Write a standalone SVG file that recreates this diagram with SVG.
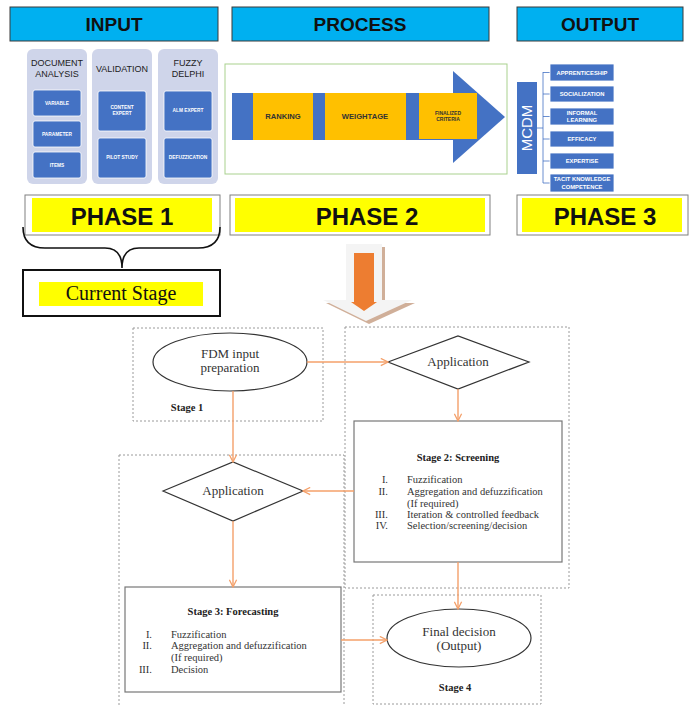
<svg xmlns="http://www.w3.org/2000/svg" width="691" height="706" viewBox="0 0 691 706">
<defs>
<style>
.hdr{fill:#00B0F0;stroke:#3A3A3A;stroke-width:1}
.hdrt{font-family:"Liberation Sans",Arial,sans-serif;font-weight:bold;font-size:19px;fill:#111;text-anchor:middle}
.panel{fill:#CFD5EA}
.pt{font-family:"Liberation Sans",Arial,sans-serif;font-size:9px;fill:#222;text-anchor:middle}
.blue{fill:#4472C4}
.bb{fill:#4472C4;stroke:#ffffff;stroke-width:0.8}
.wt{font-family:"Liberation Sans",Arial,sans-serif;font-weight:bold;font-size:4.8px;fill:#fff;text-anchor:middle}
.ot{font-family:"Liberation Sans",Arial,sans-serif;font-weight:bold;font-size:5.8px;fill:#fff;text-anchor:middle}
.yel{fill:#FFC000}
.yt{font-family:"Liberation Sans",Arial,sans-serif;font-weight:bold;font-size:7.6px;fill:#333;text-anchor:middle}
.phb{fill:#fff;stroke:#808080;stroke-width:1}
.phy{fill:#FFFF00}
.pht{font-family:"Liberation Sans",Arial,sans-serif;font-weight:bold;font-size:24px;fill:#111;text-anchor:middle}
.dash{fill:none;stroke:#9a9a9a;stroke-width:1;stroke-dasharray:2,2}
.node{fill:#fff;stroke:#333;stroke-width:1.2}
.box{fill:#fff;stroke:#777;stroke-width:1.2}
.st{font-family:"Liberation Serif","Times New Roman",serif;font-size:13px;fill:#333;text-anchor:middle}
.sb{font-family:"Liberation Serif","Times New Roman",serif;font-weight:bold;font-size:10.5px;fill:#222;text-anchor:middle}
.li{font-family:"Liberation Serif","Times New Roman",serif;font-size:10.5px;fill:#333}
.num{text-anchor:end}
.con{fill:none;stroke:#F4A06A;stroke-width:1.4}
</style>
<marker id="arr" viewBox="0 0 10 10" refX="9" refY="5" markerWidth="9" markerHeight="9" orient="auto" markerUnits="userSpaceOnUse">
<path d="M1,1 L9,5 L1,9" fill="none" stroke="#F4A06A" stroke-width="1.4"/>
</marker>
</defs>

<g id="header-input"><rect class="hdr" x="10" y="7" width="208" height="34"/><text class="hdrt" x="114" y="31">INPUT</text></g>
<g id="header-process"><rect class="hdr" x="232" y="7" width="257" height="34"/><text class="hdrt" x="360" y="31">PROCESS</text></g>
<g id="header-output"><rect class="hdr" x="517" y="7" width="166" height="34"/><text class="hdrt" x="600" y="31">OUTPUT</text></g>

<g id="input-document-analysis">
<rect class="panel" x="27" y="49" width="60" height="135" rx="6"/>
<text class="pt" x="57" y="66">DOCUMENT</text><text class="pt" x="57" y="77">ANALYSIS</text>
<rect class="bb" x="33" y="90" width="48" height="26" rx="2"/><text class="wt" x="57" y="105">VARIABLE</text>
<rect class="bb" x="33" y="121" width="48" height="26" rx="2"/><text class="wt" x="57" y="136">PARAMETER</text>
<rect class="bb" x="33" y="152" width="48" height="26" rx="2"/><text class="wt" x="57" y="167">ITEMS</text>
</g>
<g id="input-validation">
<rect class="panel" x="92" y="49" width="60" height="135" rx="6"/>
<text class="pt" x="122" y="72">VALIDATION</text>
<rect class="bb" x="98" y="91" width="48" height="40" rx="2"/><text class="wt" x="122" y="109">CONTENT</text><text class="wt" x="122" y="115">EXPERT</text>
<rect class="bb" x="98" y="138" width="48" height="40" rx="2"/><text class="wt" x="122" y="159">PILOT STUDY</text>
</g>
<g id="input-fuzzy-delphi">
<rect class="panel" x="158" y="49" width="60" height="135" rx="6"/>
<text class="pt" x="188" y="66">FUZZY</text><text class="pt" x="188" y="77">DELPHI</text>
<rect class="bb" x="164" y="91" width="48" height="40" rx="2"/><text class="wt" x="188" y="112">ALM EXPERT</text>
<rect class="bb" x="164" y="138" width="48" height="40" rx="2"/><text class="wt" x="188" y="159">DEFUZZICATION</text>
</g>

<g id="process">
<rect x="225" y="64" width="282" height="110" fill="#fff" stroke="#A9D18E" stroke-width="1"/>
<rect class="blue" x="232" y="93" width="222" height="47"/>
<polygon class="blue" points="453,71 505,117 453,163"/>
<rect class="yel" x="253" y="93" width="60" height="47"/><text class="yt" x="283" y="119">RANKING</text>
<rect class="yel" x="325" y="93" width="81" height="47"/><text class="yt" x="365" y="119">WEIGHTAGE</text>
<rect class="yel" x="419" y="93" width="58" height="46"/>
<text class="yt" style="font-size:5px" x="448" y="115">FINALIZED</text><text class="yt" style="font-size:5px" x="448" y="121">CRITERIA</text>
</g>

<g id="output">
<rect class="blue" x="517" y="82" width="20" height="92"/>
<text x="527" y="133" transform="rotate(-90 527 128)" style="font-family:'Liberation Sans',Arial,sans-serif;font-size:15px;fill:#fff;text-anchor:middle">MCDM</text>
<path d="M537,128 H543 M543,72 V183 M543,72.5 H550 M543,94 H550 M543,116.5 H550 M543,139 H550 M543,161 H550 M543,183 H550" fill="none" stroke="#4472C4" stroke-width="0.8"/>
<rect class="bb" x="550" y="64" width="64" height="17"/><text class="ot" x="582" y="75">APPRENTICESHIP</text>
<rect class="bb" x="550" y="86" width="64" height="16"/><text class="ot" x="582" y="96">SOCIALIZATION</text>
<rect class="bb" x="550" y="108" width="64" height="17"/><text class="ot" x="582" y="115">INFORMAL</text><text class="ot" x="582" y="122">LEARNING</text>
<rect class="bb" x="550" y="131" width="64" height="16"/><text class="ot" x="582" y="141">EFFICACY</text>
<rect class="bb" x="550" y="153" width="64" height="16"/><text class="ot" x="582" y="163">EXPERTISE</text>
<rect class="bb" x="550" y="174" width="64" height="18"/><text class="ot" x="582" y="181">TACIT KNOWLEDGE</text><text class="ot" x="582" y="189">COMPETENCE</text>
</g>

<g id="phase1"><rect class="phb" x="25" y="195" width="195" height="40"/><rect class="phy" x="32" y="198" width="180" height="34"/><text class="pht" x="122" y="225">PHASE 1</text></g>
<g id="phase2"><rect class="phb" x="230" y="195" width="260" height="40"/><rect class="phy" x="235" y="198" width="250" height="34"/><text class="pht" x="367" y="225">PHASE 2</text></g>
<g id="phase3"><rect class="phb" x="517" y="195" width="171" height="40"/><rect class="phy" x="522" y="198" width="160" height="34"/><text class="pht" x="605" y="225">PHASE 3</text></g>

<g id="brace"><path d="M23,227 Q23,248 45,248 L105,248 Q122,248 122,268 Q122,248 139,248 L198,248 Q220,248 220,227" fill="none" stroke="#111" stroke-width="1.6"/></g>
<g id="current-stage"><rect x="23" y="270" width="197" height="46" fill="#fff" stroke="#111" stroke-width="2"/><rect class="phy" x="39" y="282" width="164" height="24"/><text x="121" y="300" style="font-family:'Liberation Serif','Times New Roman',serif;font-size:20px;fill:#111;text-anchor:middle">Current Stage</text></g>

<g id="big-arrow">
<polygon points="349,247 385,247 385,303 415,303 369,324 326,303 349,303" fill="#B07A55" opacity="0.6"/>
<polygon points="346,244 382,244 382,300 412,300 366,321 323,300 346,300" fill="#F4F4F4"/>
<rect x="354" y="253" width="20" height="50" fill="#ED7D31"/>
<polygon points="351,302 377,302 364,311" fill="#ED7D31"/>
</g>

<g id="stage1"><rect class="dash" x="133" y="328" width="190" height="93"/>
<ellipse class="node" cx="230" cy="362" rx="77" ry="29"/>
<text class="st" x="230" y="358">FDM input</text><text class="st" x="230" y="372">preparation</text>
<text class="sb" x="187" y="411">Stage 1</text></g>

<g id="stage2"><rect class="dash" x="345" y="327" width="224" height="261"/>
<polygon class="node" points="388,362 458,336 529,362 458,389"/>
<text class="st" x="458" y="366">Application</text>
<rect class="box" x="354" y="421" width="208" height="141"/>
<text class="sb" x="458" y="461">Stage 2: Screening</text>
<text class="li num" x="388" y="483">I.</text><text class="li" x="407" y="483">Fuzzification</text>
<text class="li num" x="388" y="495">II.</text><text class="li" x="407" y="495">Aggregation and defuzzification</text>
<text class="li" x="407" y="507">(If required)</text>
<text class="li num" x="388" y="518">III.</text><text class="li" x="407" y="518">Iteration &amp; controlled feedback</text>
<text class="li num" x="388" y="529">IV.</text><text class="li" x="407" y="529">Selection/screening/decision</text></g>

<g id="stage3"><rect class="dash" x="119" y="455" width="225" height="260"/>
<polygon class="node" points="163,491 233,462 303,491 233,521"/>
<text class="st" x="233" y="495">Application</text>
<rect class="box" x="125" y="587" width="216" height="105"/>
<text class="sb" x="233" y="615">Stage 3: Forecasting</text>
<text class="li num" x="152" y="638">I.</text><text class="li" x="171" y="638">Fuzzification</text>
<text class="li num" x="152" y="649">II.</text><text class="li" x="171" y="649">Aggregation and defuzzification</text>
<text class="li" x="171" y="661">(If required)</text>
<text class="li num" x="152" y="673">III.</text><text class="li" x="171" y="673">Decision</text></g>

<g id="stage4"><rect class="dash" x="373" y="595" width="168" height="109"/>
<ellipse class="node" cx="459" cy="638" rx="72" ry="29"/>
<text class="st" x="459" y="636">Final decision</text><text class="st" x="459" y="650">(Output)</text>
<text class="sb" x="455" y="691">Stage 4</text></g>

<g id="connectors">
<path class="con" d="M307,362 H388" marker-end="url(#arr)"/>
<path class="con" d="M233,391 V462" marker-end="url(#arr)"/>
<path class="con" d="M458,389 V421" marker-end="url(#arr)"/>
<path class="con" d="M354,491 H303" marker-end="url(#arr)"/>
<path class="con" d="M233,521 V587" marker-end="url(#arr)"/>
<path class="con" d="M458,562 V609" marker-end="url(#arr)"/>
<path class="con" d="M341,640 H387" marker-end="url(#arr)"/>
</g>
</svg>
